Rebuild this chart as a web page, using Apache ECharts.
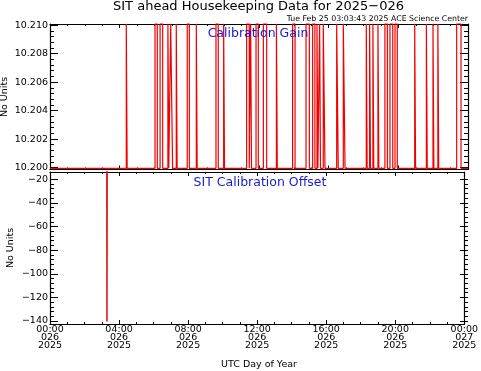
<!DOCTYPE html>
<html><head><meta charset="utf-8">
<script src="https://cdn.jsdelivr.net/npm/echarts@6/dist/echarts.min.js"></script>
<style>html,body{margin:0;padding:0;background:#fff}#c{width:481px;height:371px}</style>
</head><body><div id="c"></div>
<script>
// ---- data (hours of day 2025-026, UTC) ----
const xTickHours = [0, 4, 8, 12, 16, 20, 24];
const xTickLabels = ['00:00\n026\n2025', '04:00\n026\n2025', '08:00\n026\n2025', '12:00\n026\n2025',
                     '16:00\n026\n2025', '20:00\n026\n2025', '00:00\n027\n2025'];
// Calibration Gain: intervals (hours) where the gain is at its high value
const gainPulseStart = [4.38, 6.03, 6.32, 6.77, 6.93, 7.25, 7.88, 8.40, 9.53, 9.97, 11.29, 11.52, 11.83, 12.25,
  13.00, 13.93, 14.70, 15.08, 15.33, 15.48, 15.69, 16.46, 16.84, 18.16, 18.35, 18.54, 18.83, 19.23, 19.52,
  19.81, 20.94, 21.61, 21.99, 22.27, 23.35];
const gainPulseEnd = [4.43, 6.16, 6.47, 6.82, 7.04, 7.30, 8.00, 8.45, 9.66, 10.02, 11.44, 11.57, 11.96, 12.44,
  13.05, 14.07, 14.89, 15.21, 15.38, 15.53, 15.79, 16.55, 16.94, 18.21, 18.40, 18.59, 18.88, 19.37, 19.68,
  19.94, 20.99, 21.66, 22.04, 22.32, 23.60];
const gainLow = 10.19994;
const gainHigh = 10.2101;
// Calibration Offset
const offsetTimes = [0, 3.29, 3.30, 3.31, 24];
const offsetValues = [-12, -12, -140.5, -12, -12];

// ---- build line data ----
const gainData = [[0, gainLow]];
for (let i = 0; i < gainPulseStart.length; i++) {
  gainData.push([gainPulseStart[i], gainLow], [gainPulseStart[i], gainHigh],
                [gainPulseEnd[i], gainHigh], [gainPulseEnd[i], gainLow]);
}
gainData.push([24, gainLow]);
const offsetData = offsetTimes.map((t, i) => [t, offsetValues[i]]);

const FONT = 'DejaVu Sans';
const black = '#000';
function frameX(grid, pos, labels) {
  return {
    type: 'value', gridIndex: grid, position: pos, min: 0, max: 24, interval: 4,
    axisLine: { show: true, onZero: false, lineStyle: { color: black, width: 1.2 } },
    axisTick: { show: true, inside: true, length: 4, lineStyle: { color: black } },
    minorTick: { show: true, splitNumber: 4, length: 2, lineStyle: { color: black } },
    splitLine: { show: false },
    axisLabel: labels ? {
      show: true, margin: 2, fontFamily: FONT, fontSize: 9.5, color: black, lineHeight: 8,
      formatter: v => { const k = xTickHours.indexOf(v); return k >= 0 ? xTickLabels[k] : ''; }
    } : { show: false }
  };
}
function hiddenX(grid) { return { type: 'value', gridIndex: grid, min: 0, max: 24, show: false }; }
function frameY(grid, pos, min, max) {
  return {
    type: 'value', gridIndex: grid, position: pos, min: min, max: max,
    axisLine: { show: true, onZero: false, lineStyle: { color: black, width: 1.2 } },
    axisTick: { show: false }, axisLabel: { show: false }, splitLine: { show: false }
  };
}
function tickY(grid, pos, min, max, interval, fmt) {
  return {
    type: 'value', gridIndex: grid, position: pos, min: min, max: max, interval: interval,
    axisLine: { show: false },
    axisTick: { show: true, inside: true, length: 8, lineStyle: { color: black } },
    minorTick: { show: true, splitNumber: 5, length: 4, lineStyle: { color: black } },
    splitLine: { show: false },
    axisLabel: fmt ? { show: true, margin: 2, fontFamily: FONT, fontSize: 9.5, color: black, formatter: fmt }
                   : { show: false }
  };
}

const chart = echarts.init(document.getElementById('c'), null, { renderer: 'canvas' });
chart.setOption({
  animation: false,
  backgroundColor: '#fff',
  grid: [
    { left: 50, right: 13, top: 24, height: 145.5 },
    { left: 50, right: 13, top: 25.2, height: 142.3 },
    { left: 50, right: 13, top: 172, height: 152 },
    { left: 50, right: 13, top: 179.3, height: 141.7 }
  ],
  xAxis: [
    frameX(0, 'bottom', false), frameX(0, 'top', false), hiddenX(1),
    frameX(2, 'bottom', true), frameX(2, 'top', false), hiddenX(3)
  ],
  yAxis: [
    frameY(0, 'left', 10.19986, 10.21008), frameY(0, 'right', 10.19986, 10.21008),
    tickY(1, 'left', 10.2, 10.21, 0.002, v => v.toFixed(3)), tickY(1, 'right', 10.2, 10.21, 0.002, null),
    frameY(2, 'left', -142.54, -13.82), frameY(2, 'right', -142.54, -13.82),
    tickY(3, 'left', -140, -20, 20, v => (v < 0 ? '\u2212' : '') + Math.abs(v)), tickY(3, 'right', -140, -20, 20, null)
  ],
  series: [
    { type: 'line', xAxisIndex: 0, yAxisIndex: 0, data: gainData, showSymbol: false, symbol: 'none',
      clip: true, lineStyle: { color: '#f00000', width: 1.2 }, itemStyle: { color: '#f00000' } },
    { type: 'line', xAxisIndex: 3, yAxisIndex: 4, data: offsetData, showSymbol: false, symbol: 'none',
      clip: true, lineStyle: { color: '#e01010', width: 1.5 }, itemStyle: { color: '#e01010' } }
  ],
  graphic: [
    { type: 'text', x: 258.5, y: 7, style: { text: 'SIT ahead Housekeeping Data for 2025\u2212026', font: '13px "DejaVu Sans"', fill: black, align: 'center', verticalAlign: 'middle' } },
    { type: 'text', x: 468, y: 19, style: { text: 'Tue Feb 25 03:03:43 2025 ACE Science Center', font: '7.8px "DejaVu Sans"', fill: black, align: 'right', verticalAlign: 'middle' } },
    { type: 'text', x: 258, y: 34, z: 10, style: { text: 'Calibration Gain', font: '12.5px "DejaVu Sans"', fill: '#1a1acd', align: 'center', verticalAlign: 'middle' } },
    { type: 'text', x: 260, y: 183, z: 10, style: { text: 'SIT Calibration Offset', font: '12.5px "DejaVu Sans"', fill: '#1a1acd', align: 'center', verticalAlign: 'middle' } },
    { type: 'text', x: 259, y: 365, style: { text: 'UTC Day of Year', font: '9.5px "DejaVu Sans"', fill: black, align: 'center', verticalAlign: 'middle' } },
    { type: 'text', x: 5, y: 97, rotation: Math.PI / 2, style: { text: 'No Units', font: '9.5px "DejaVu Sans"', fill: black, align: 'center', verticalAlign: 'middle' } },
    { type: 'text', x: 11, y: 248, rotation: Math.PI / 2, style: { text: 'No Units', font: '9.5px "DejaVu Sans"', fill: black, align: 'center', verticalAlign: 'middle' } }
  ]
});
</script></body></html>
